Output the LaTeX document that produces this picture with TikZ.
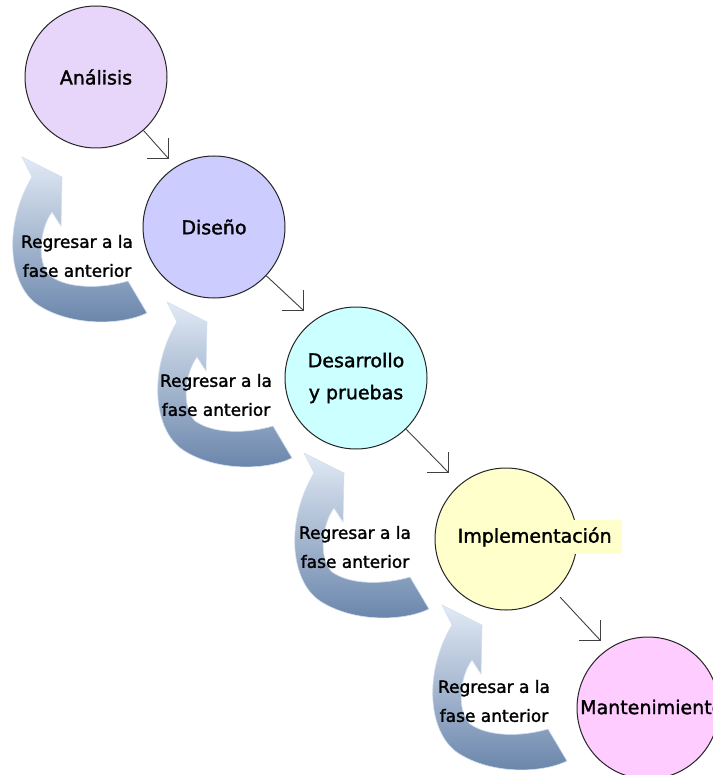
\documentclass[tikz,border=0pt]{standalone}
\usepackage{fontspec}
\setmainfont{DejaVu Sans}
\newfontface\labelfont{DejaVu Sans}[FakeBold=1.6]
\usetikzlibrary{calc}

\definecolor{cAnal}{RGB}{232,214,250}
\definecolor{cDis}{RGB}{204,204,255}
\definecolor{cDes}{RGB}{204,255,255}
\definecolor{cImp}{RGB}{255,255,204}
\definecolor{cMan}{RGB}{255,204,255}
\definecolor{arrowtop}{RGB}{226,234,245}
\definecolor{arrowmid}{RGB}{184,201,224}
\definecolor{arrowbot}{RGB}{104,132,170}
\definecolor{arrowrim}{RGB}{210,222,238}

\begin{document}
\begin{tikzpicture}[x=1pt,y=-1pt,
  phase/.style={circle, draw=black!85, line width=1pt, minimum size=142pt, inner sep=0pt},
  phaselabel/.style={font=\labelfont\fontsize{19}{32}\selectfont, align=center},
  backlabel/.style={font=\labelfont\fontsize{17}{29}\selectfont, align=center, inner sep=0pt},
  flow/.style={draw=black!75, line width=0.9pt},
  backarrow/.pic={
    % curved return arrow: head at the top, thick tail at the lower right
    \shade[top color=arrowtop, middle color=arrowmid, bottom color=arrowbot,
           draw=arrowrim, line width=0.6pt]
      (22,157) -- (62,177) -- (61,226) -- (52,212)
      .. controls (40,228) and (36,262) .. (50,276)
      .. controls (70,290) and (105,288) .. (128,281)
      -- (147,313)
      .. controls (120,326) and (70,326) .. (38,305)
      .. controls (8,285) and (3,225) .. (32,177) -- cycle;
  }
]
\useasboundingbox (0,0) rectangle (712,775);

% return arrows between consecutive phases
\pic at (0,0) {backarrow};
\pic at (145,145) {backarrow};
\pic at (282,296) {backarrow};
\pic at (420,448) {backarrow};

\node[backlabel] (r1) at (77,256) {Regresar a la\\fase anterior};
\node[backlabel] (r2) at (216,395) {Regresar a la\\fase anterior};
\node[backlabel] (r3) at (355,547) {Regresar a la\\fase anterior};
\node[backlabel] (r4) at (494,701) {Regresar a la\\fase anterior};

% phases
\node[phase, fill=cAnal, phaselabel] (c1) at (96,77) {Análisis};
\node[phase, fill=cDis, phaselabel] (c2) at (214,227) {Diseño};
\node[phase, fill=cDes, phaselabel] (c3) at (356,378) {Desarrollo\\y pruebas};
\node[phase, fill=cImp] (c4) at (506,539) {};
\node[phase, fill=cMan] (c5) at (648,708) {};
\node[phaselabel, fill=cImp, anchor=west, inner sep=0pt, minimum width=175pt, minimum height=34pt] (l4) at (447,537) {Implementación};
\node[phaselabel, anchor=west, inner sep=2pt] (l5) at (578,707) {Mantenimiento};

% forward connectors with open corner heads
\coordinate (t1) at (168,158);
\coordinate (t2) at (303,310);
\coordinate (t3) at (448,472);
\coordinate (t4) at (600,640);
\draw[flow] (c1) -- (t1);
\draw[flow] (c2) -- (t2);
\draw[flow] (c3) -- (t3);
\draw[flow, shorten <=8pt] (c4) -- (t4);
\foreach \t in {t1,t2,t3,t4}
  \draw[flow] (\t) ++(-21,0) -- (\t) -- ++(0,-20);
\end{tikzpicture}
\end{document}
